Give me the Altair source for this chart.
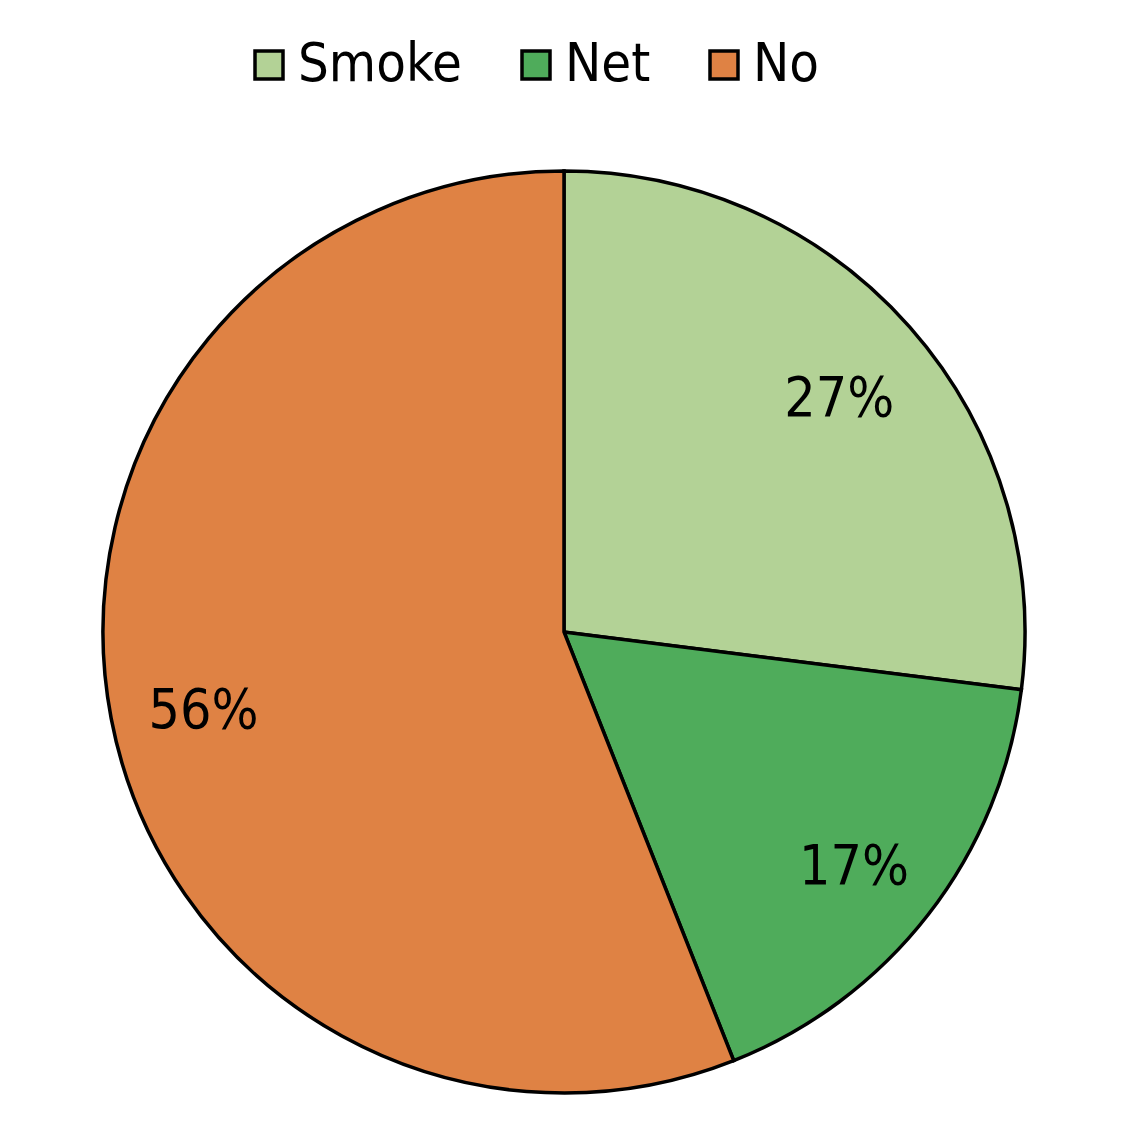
import altair as alt
import pandas as pd

categories = ["Smoke", "Net", "No"]
values = [27, 17, 56]
labels = ["27%", "17%", "56%"]
colors = ["#b3d296", "#4fac5b", "#df8244"]

df = pd.DataFrame({"cat": categories, "val": values, "label": labels, "idx": [0, 1, 2]})

FONT = "DejaVu Sans Condensed"

base = alt.Chart(df).encode(
    theta=alt.Theta("val:Q", stack=True),
    order=alt.Order("idx:Q"),
)

arc = base.mark_arc(radius=461, stroke="black", strokeWidth=3.5).encode(
    x=alt.value(556),
    y=alt.value(624),
    color=alt.Color(
        "cat:N",
        scale=alt.Scale(domain=categories, range=colors),
        sort=categories,
        legend=alt.Legend(
            title=None,
            orient="none",
            direction="horizontal",
            legendX=234,
            legendY=30,
            symbolType="square",
            symbolSize=784,
            symbolStrokeColor="black",
            symbolStrokeWidth=3.5,
            symbolOpacity=1,
            labelFontSize=54,
            labelFont=FONT,
            labelColor="black",
            labelOffset=2,
            labelLimit=0,
            columnPadding=46,
            padding=0,
        ),
    ),
)

text = base.mark_text(radius=367, fontSize=55, font=FONT, color="black", dy=10).encode(
    x=alt.value(556),
    y=alt.value(624),
    text="label:N",
)

chart = (
    alt.layer(arc, text)
    .properties(width=1120, height=1120, autosize=alt.AutoSizeParams(type="none"), padding=0)
    .configure_view(stroke=None)
)

chart.save("out.html", embed_options={"renderer": "svg", "actions": False})
